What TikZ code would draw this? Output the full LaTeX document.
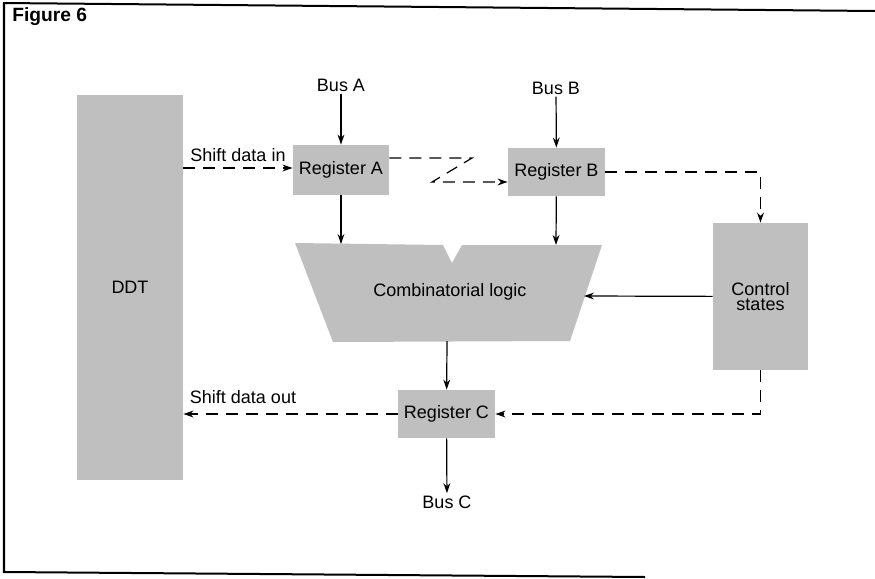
\documentclass[tikz,border=0pt]{standalone}
\usepackage{fontspec}
\setmainfont{Liberation Sans}
\usepackage{tikz}
\usetikzlibrary{arrows.meta}

\begin{document}
\begin{tikzpicture}[x=0.5pt,y=-0.5pt,>={Stealth[length=5pt,width=3.4pt]},
  box/.style={fill=black!25,inner sep=0pt,font=\fontsize{9}{10.5}\selectfont,align=center},
  lbl/.style={inner sep=1pt,font=\fontsize{9}{10.5}\selectfont},
  dsh/.style={dash pattern=on 6pt off 4pt,line width=0.6pt},
  sld/.style={line width=0.6pt}]
\useasboundingbox (0,0) rectangle (875,579);
% frame
\draw[line width=1pt](3,3)--(875,11);
\draw[line width=1pt](4,3)--(4,572)--(645,577);
\node[anchor=west,inner sep=0pt,font=\fontsize{9.6}{11}\selectfont\bfseries](fig)at(12,17){Figure 6};
% blocks
\node[box,minimum width=53pt,minimum height=192.5pt](ddt)at(130,287.5){DDT};
\node[box,minimum width=48pt,minimum height=25pt](ra)at(341,170){Register A};
\node[box,minimum width=48.5pt,minimum height=24pt](rb)at(556.5,172){Register B};
\node[box,minimum width=48.5pt,minimum height=24pt](rc)at(446.5,414){Register C};
\node[box,minimum width=47.5pt,minimum height=73.5pt](ctl)at(760.5,296.5){Control\\[-3pt]states};
\fill[black!25](295,243)--(443,245)--(452,263)--(462,245)--(602,245)--(570,341)--(333,342)--cycle;
\node[lbl](cl)at(450,292){Combinatorial logic};
\coordinate(cla)at(341,244);
\coordinate(clb)at(556,245);
\coordinate(clr)at(584,296);
\coordinate(clbot)at(447,341);
% buses
\node[lbl](busa)at(341,85){Bus A};
\node[lbl](busb)at(556,88){Bus B};
\node[lbl](busc)at(447,502){Bus C};
\draw[sld,->](busa)--(ra);
\draw[sld,->](busb)--(rb);
\draw[sld,->](ra)--(cla);
\draw[sld,->](rb)--(clb);
\draw[sld,->](ctl)--(clr);
\draw[sld,->](clbot)--(rc);
\draw[sld,->](rc)--(busc);
% shift paths
\draw[dsh,->](ddt.east|-0,168)--(ra.west|-0,168);
\node[lbl](sin)at(238,155){Shift data in};
\draw[dsh,->](ra.east|-0,158)--(472,158)--(432,182)--(rb.west|-0,182);
\draw[dsh,->](rb.east)-|(ctl.north);
\draw[dsh,->](ctl.south)|-(rc.east);
\draw[dsh,->](rc.west)--(ddt.east|-rc.west);
\node[lbl](sout)at(243,397){Shift data out};
\end{tikzpicture}
\end{document}
